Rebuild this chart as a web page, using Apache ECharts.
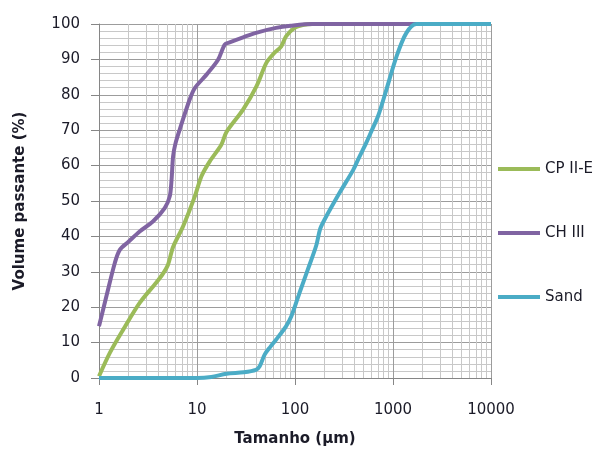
<!DOCTYPE html>
<html>
<head>
<meta charset="utf-8">
<script src="https://cdn.jsdelivr.net/npm/echarts@6/dist/echarts.min.js"></script>
<style>html,body{margin:0;padding:0;background:#fff;}#c{width:594px;height:450px;}</style>
</head>
<body>
<div id="c"></div>
<script>
var seriesNames = ['CP II-E', 'CH III', 'Sand'];
var xTickLabels = ['1', '10', '100', '1000', '10000'];
var yTickLabels = ['0','10','20','30','40','50','60','70','80','90','100'];

var cpX = [1, 1.29, 1.76, 2.6, 3.85, 4.5, 5.06, 5.7, 7.2, 9.5, 11.1, 13.5, 17.7, 20, 29.5, 40.4, 51, 60, 72.5, 81, 99, 120, 152, 10000];
var cpY = [0.5, 7.1, 13.6, 21.2, 27, 29.5, 32, 37, 42.8, 51.3, 57, 61.2, 65.9, 69.5, 75.8, 82.4, 89, 91.5, 93.7, 96.5, 98.9, 99.7, 100, 100];

var chX = [1, 1.2, 1.45, 1.63, 2, 2.6, 3.55, 4.68, 5.27, 5.5, 5.7, 6.0, 6.65, 8.4, 9.5, 12.5, 16.4, 19.2, 21.5, 30, 40, 64, 90, 150, 10000];
var chY = [14.6, 23.5, 32.5, 36.2, 38.5, 41.4, 44.2, 48, 51.3, 56, 62.6, 66, 70.1, 78.6, 81.9, 85.7, 89.9, 94.2, 94.8, 96.3, 97.5, 98.9, 99.5, 100, 100];

var sandX = [1, 10, 14, 20, 30, 40, 43.6, 49, 56, 64, 81, 92, 111, 135, 165, 180, 200, 285, 393, 440, 533, 620, 705, 855, 1085, 1370, 1734, 10000];
var sandY = [0, 0, 0.3, 1.2, 1.6, 2.3, 3.3, 6.6, 8.8, 10.8, 14.6, 17.5, 24, 30.6, 37.5, 42, 44.7, 52.3, 58.8, 61.7, 66.4, 70.5, 74, 81.4, 90.8, 97.5, 100, 100];

var colors = ['#9bbb59', '#8064a2', '#4bacc6'];

function pairs(xs, ys) { return xs.map(function (x, i) { return [x, ys[i]]; }); }

var minorX = [];
for (var d = 1; d < 10000; d *= 10) { for (var k = 2; k <= 9; k++) minorX.push(d * k); }

var font = 'DejaVu Sans';
var textColor = '#1b1b28';
var majorGrid = '#9c9c9c';
var minorGrid = '#c8c8c8';

var chart = echarts.init(document.getElementById('c'), null, {renderer: 'canvas'});
chart.setOption({
  animation: false,
  backgroundColor: '#ffffff',
  color: colors,
  grid: {left: 99, right: 103, top: 24, bottom: 72, containLabel: false, outerBoundsMode: 'none'},
  legend: {
    data: seriesNames,
    orient: 'vertical',
    left: 493, top: 156,
    itemWidth: 42, itemHeight: 4, itemGap: 48,
    icon: 'rect',
    textStyle: {fontFamily: font, fontSize: 15, color: textColor, lineHeight: 16}
  },
  xAxis: {
    type: 'log', logBase: 10, min: 1, max: 10000,
    name: 'Tamanho (µm)', nameLocation: 'middle', nameGap: 54,
    nameTextStyle: {fontFamily: font, fontSize: 15, fontWeight: 'bold', color: textColor},
    axisLine: {show: true, lineStyle: {color: '#868686', width: 1}},
    axisTick: {show: true, length: 7, lineStyle: {color: '#868686'}},
    axisLabel: {fontFamily: font, fontSize: 15, color: textColor, margin: 25,
      formatter: function (v) { var i = Math.round(Math.log10(v)); return xTickLabels[i] !== undefined ? xTickLabels[i] : ''; }},
    splitLine: {show: true, lineStyle: {color: majorGrid, width: 1}}
  },
  yAxis: {
    type: 'value', min: 0, max: 100, interval: 10,
    name: 'Volume passante (%)', nameLocation: 'middle', nameGap: 71,
    nameTextStyle: {fontFamily: font, fontSize: 15, fontWeight: 'bold', color: textColor},
    axisLine: {show: true, lineStyle: {color: '#868686', width: 1}},
    axisTick: {show: true, length: 8, lineStyle: {color: '#868686'}},
    axisLabel: {fontFamily: font, fontSize: 15, color: textColor, margin: 19,
      formatter: function (v) { return yTickLabels[Math.round(v / 10)]; }},
    splitLine: {show: true, lineStyle: {color: majorGrid, width: 1}},
    minorTick: {show: false, splitNumber: 5},
    minorSplitLine: {show: true, lineStyle: {color: minorGrid, width: 1}}
  },
  series: [
    {
      name: '_grid', type: 'line', data: [], z: 1, silent: true,
      markLine: {
        silent: true, symbol: ['none', 'none'], z: 1,
        label: {show: false},
        lineStyle: {color: minorGrid, width: 1, type: 'solid'},
        emphasis: {disabled: true},
        data: minorX.map(function (v) { return {xAxis: v}; })
      }
    },
    {name: seriesNames[0], type: 'line', data: pairs(cpX, cpY), smooth: 0.3, showSymbol: false, symbol: 'none', z: 3,
      lineStyle: {width: 4, color: colors[0]}, itemStyle: {color: colors[0]}},
    {name: seriesNames[1], type: 'line', data: pairs(chX, chY), smooth: 0.3, showSymbol: false, symbol: 'none', z: 3,
      lineStyle: {width: 4, color: colors[1]}, itemStyle: {color: colors[1]}},
    {name: seriesNames[2], type: 'line', data: pairs(sandX, sandY), smooth: 0.3, showSymbol: false, symbol: 'none', z: 3,
      lineStyle: {width: 4, color: colors[2]}, itemStyle: {color: colors[2]}}
  ]
});
</script>
</body>
</html>
